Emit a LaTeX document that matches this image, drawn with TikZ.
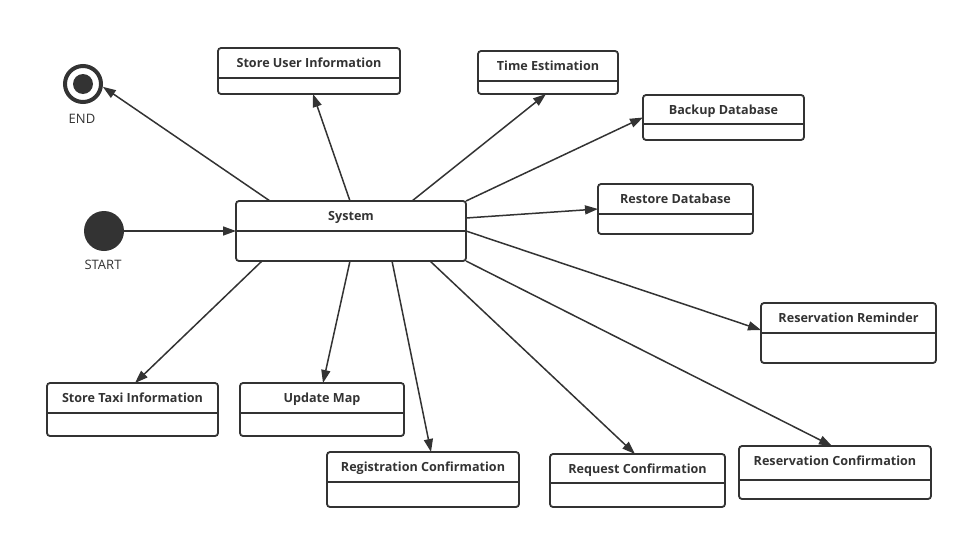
\documentclass[tikz,border=0pt]{standalone}
\usepackage{fontspec}
\setmainfont{Open Sans}
\usetikzlibrary{arrows.meta,calc}
\definecolor{ink}{HTML}{333333}
\tikzset{
  box/.style={draw=ink, line width=1.8pt, rounded corners=3pt, inner sep=0pt, outer sep=0pt},
  divline/.style={draw=ink, line width=1.8pt},
  title/.style={anchor=base, text=ink, font=\bfseries\fontsize{12.6pt}{14pt}\selectfont, inner sep=0pt},
  plainlabel/.style={text=ink, font=\fontsize{13pt}{15pt}\selectfont, inner sep=0pt},
  arr/.style={draw=ink, line width=1.5pt, -{Triangle[length=13pt,width=9pt]}},
}
\newcommand\stbox[7]{%
  \node[box, minimum width={#4pt-#2pt}, minimum height={#5pt-#3pt}] (#1) at ({(#2+#4)/2},{(#3+#5)/2}) {};
  \draw[divline] (#2,#6) -- (#4,#6);
  \node[title] (#1-t) at ({(#2+#4)/2},{#3+19}) {#7};
}
\begin{document}
\begin{tikzpicture}[x=1pt,y=-1pt]
\useasboundingbox (0,0) rectangle (968,538);
% initial and final states
\node[circle, fill=ink, minimum size=40pt, inner sep=0pt, outer sep=0pt] (start) at (104,231) {};
\node[plainlabel] (startl) at (103,265) {START};
\node[circle, draw=ink, line width=4pt, minimum size=36pt, inner sep=0pt, outer sep=2pt] (endc) at (83,84) {};
\node[circle, fill=ink, minimum size=20pt, inner sep=0pt] (endd) at (83,84) {};
\node[plainlabel] (endl) at (82,119) {END};
% states
\stbox{sys}{236}{201}{466}{261}{231}{System}
\stbox{suser}{218}{48}{400}{94}{78}{Store User Information}
\stbox{time}{478}{51}{618}{94}{81}{Time Estimation}
\stbox{backup}{643}{95}{804}{140}{124}{Backup Database}
\stbox{restore}{598}{184}{753}{234}{214}{Restore Database}
\stbox{resrem}{761}{303}{936}{363}{333}{Reservation Reminder}
\stbox{taxi}{47}{383}{218}{436}{413}{Store Taxi Information}
\stbox{umap}{240}{383}{404}{436}{413}{Update Map}
\stbox{reg}{327}{452}{519}{507}{482}{Registration Confirmation}
\stbox{req}{550}{454}{725}{507}{483}{Request Confirmation}
\stbox{rescon}{739}{446}{931}{499}{480}{Reservation Confirmation}
% transitions
\draw[arr] (start.east) -- (sys.west);
\draw[arr] ($(sys.north west)+(34,0)$) -- (endc.-8);
\draw[arr] ($(sys.north west)+(114,0)$) -- ($(suser.south west)+(95,0)$);
\draw[arr] ($(sys.north west)+(176,0)$) -- ($(time.south west)+(68,0)$);
\draw[arr] (sys.north east) -- (backup.west);
\draw[arr] ($(sys.north east)+(0,17)$) -- (restore.west);
\draw[arr] (sys.east) -- ($(resrem.north west)+(0,27)$);
\draw[arr] (sys.south east) -- ($(rescon.north west)+(93,0)$);
\draw[arr] ($(sys.south west)+(194,0)$) -- ($(req.north west)+(85,0)$);
\draw[arr] ($(sys.south west)+(156,0)$) -- ($(reg.north west)+(104,0)$);
\draw[arr] ($(sys.south west)+(114,0)$) -- ($(umap.north west)+(83,0)$);
\draw[arr] ($(sys.south west)+(26,0)$) -- ($(taxi.north west)+(88,0)$);
\end{tikzpicture}
\end{document}
